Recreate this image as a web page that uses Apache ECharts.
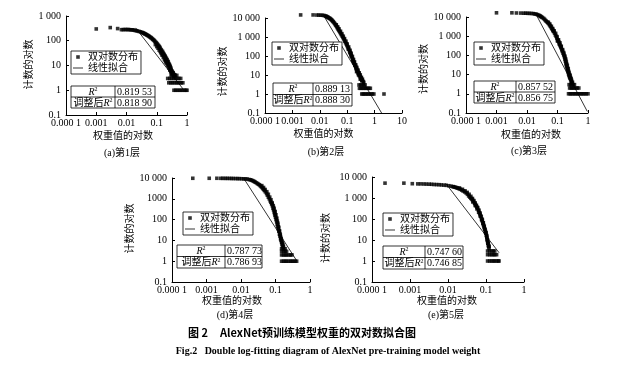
<!DOCTYPE html>
<html><head><meta charset="utf-8">
<script src="https://cdn.jsdelivr.net/npm/echarts@6/dist/echarts.min.js"></script>
<style>html,body{margin:0;padding:0;background:#fff}#c{width:621px;height:366px}</style>
</head><body><div id="c"></div>
<script>
// ---------- data ----------
const xTickLabels = ['0.000 1','0.001','0.01','0.1','1','10'];
const yTickLabelsA = ['0.1','1','10','100','1 000'];
const yTickLabelsBCE = ['0.1','1','10','100','1 000','10 000'];
const yTickLabelsD = ['0.1','1','10','100','1000','10 000'];
const panelCaptions = ['(a)第1层','(b)第2层','(c)第3层','(d)第4层','(e)第5层'];
const r2Values = ['0.819 53','0.889 13','0.857 52','0.787 73','0.747 60'];
const adjR2Values = ['0.818 90','0.888 30','0.856 75','0.786 93','0.746 85'];
const seriesScatterName = '双对数分布';
const seriesFitName = '线性拟合';

const distA = [[0.001,300],[0.0029,340],[0.0051,310],[0.0068,280],[0.0078,282],[0.0089,285],[0.01,282],[0.0112,285],[0.0125,280],[0.014,278],[0.0155,275],[0.017,270],[0.019,262],[0.021,255],[0.023,248],[0.026,238],[0.029,230],[0.032,218],[0.036,205],[0.04,192],[0.045,178],[0.05,165],[0.056,150],[0.063,136],[0.07,122],[0.078,108],[0.087,95],[0.097,82],[0.108,70],[0.12,59],[0.13,50],[0.14,44],[0.155,37],[0.17,30],[0.185,25],[0.2,21],[0.22,17],[0.24,14],[0.26,11],[0.28,9],[0.3,7],[0.33,5.5],[0.36,4.5],[0.4,4],
[0.034,212],[0.038,198],[0.042,186],[0.047,172],[0.053,158],[0.059,144],[0.066,130],[0.074,115],[0.082,102],[0.092,88],[0.102,76],[0.114,64],[0.125,55],[0.145,40],[0.16,33],[0.175,27],[0.19,23],[0.21,19],[0.23,15],[0.25,12],[0.27,10],[0.29,8],[0.32,6],[0.34,5],[0.38,4.2],
[0.09,70],[0.1,58],[0.11,50],[0.12,42],[0.135,33],[0.15,26],[0.165,21],[0.18,17],[0.195,14],[0.21,12],[0.23,10],[0.25,8],[0.27,6.5],[0.29,5.5],[0.31,4.5],[0.16,28],[0.19,19],[0.22,14],[0.26,9],[0.3,6],[0.35,5],
[0.13,38],[0.145,30],[0.17,24],[0.2,16],[0.24,11],[0.28,7],[0.33,4.8],[0.37,3.5],
[0.3,4],[0.35,4],[0.4,4],[0.46,4],
[0.23,3],[0.27,3],[0.31,3],[0.36,3],[0.41,3],[0.47,3],[0.54,3],[0.62,3],
[0.25,2],[0.29,2],[0.33,2],[0.38,2],[0.44,2],[0.5,2],[0.57,2],[0.65,2],[0.73,2],
[0.37,1],[0.42,1],[0.48,1],[0.55,1],[0.63,1],[0.72,1],[0.82,1],[0.92,1],[1.0,1]];
const fitA = [[0.02,330],[0.75,1.1]];

const distB = [[0.002,14500],[0.0057,14500],[0.0078,14300],[0.0092,14200],[0.0108,14000],[0.0125,13900],[0.0142,13600],[0.016,12800],[0.018,11800],[0.02,10800],[0.0225,9800],[0.025,8800],[0.028,7500],[0.031,6300],[0.035,5100],[0.039,4000],[0.044,3000],[0.049,2300],[0.055,1750],[0.062,1300],[0.07,950],[0.078,700],[0.087,510],[0.097,380],[0.108,270],[0.12,190],[0.135,125],[0.15,85],[0.165,58],[0.18,42],[0.2,29],[0.22,21],[0.245,15],[0.27,11],[0.3,8],[0.33,6],[0.36,5],[0.39,4.5],
[0.017,12300],[0.019,11300],[0.021,10300],[0.0235,9300],[0.0265,8100],[0.0295,6900],[0.033,5700],[0.037,4500],[0.0415,3500],[0.0465,2600],[0.052,2000],[0.058,1500],[0.066,1100],[0.074,820],[0.082,600],[0.092,440],[0.102,320],[0.114,230],[0.128,155],[0.142,105],[0.157,70],[0.172,50],[0.19,35],[0.21,25],[0.23,18],[0.26,13],[0.285,10],[0.315,7],[0.345,5.5],
[0.04,4400],[0.045,3400],[0.05,2700],[0.057,2000],[0.064,1500],[0.072,1100],[0.08,820],[0.09,600],[0.1,430],[0.113,300],[0.127,200],[0.14,140],[0.155,95],[0.17,65],[0.185,48],[0.205,34],[0.225,25],[0.25,18],[0.275,13],[0.3,10],[0.33,7.5],[0.36,6],[0.4,4],
[0.11,230],[0.125,150],[0.14,100],[0.16,60],[0.175,45],[0.19,33],[0.21,22],[0.23,16],[0.25,12],[0.28,9],[0.31,7],[0.22,15],[0.26,10],[0.3,6],[0.34,5],
[0.27,3],[0.31,3],[0.35,3],[0.4,3],[0.45,3],
[0.28,2],[0.32,2],[0.37,2],[0.42,2],[0.48,2],[0.55,2],[0.62,2],[0.7,2],
[0.34,1],[0.38,1],[0.43,1],[0.49,1],[0.56,1],[0.64,1],[0.73,1],[0.83,1],[0.94,1],[2.2,1]];
const fitB = [[0.014,13000],[1.8,0.1]];

const distC = [[0.001,16500],[0.0032,16500],[0.0045,16200],[0.0062,16000],[0.0078,15800],[0.009,15800],[0.0105,15600],[0.012,15500],[0.014,15300],[0.016,15000],[0.018,14500],[0.02,14000],[0.022,13300],[0.024,12500],[0.027,11200],[0.03,10000],[0.035,8500],[0.04,6700],[0.045,5600],[0.051,4600],[0.057,3500],[0.064,2600],[0.07,2100],[0.075,1740],[0.085,1150],[0.095,800],[0.11,510],[0.12,350],[0.13,250],[0.145,160],[0.16,105],[0.175,65],[0.19,38],[0.2,26],[0.215,17],[0.23,11],[0.245,8],[0.26,6.4],[0.28,4.5],[0.3,3.5],
[0.0255,11800],[0.0285,10600],[0.032,9300],[0.0375,7600],[0.0425,6100],[0.048,5100],[0.054,4000],[0.06,3100],[0.067,2350],[0.072,1900],[0.08,1450],[0.09,980],[0.1,650],[0.105,580],[0.115,430],[0.125,300],[0.138,200],[0.152,130],[0.168,85],[0.182,50],[0.195,32],[0.207,21],[0.222,14],[0.237,9.5],[0.252,7],[0.27,5.5],[0.29,4],
[0.05,5300],[0.056,4300],[0.063,3300],[0.07,2500],[0.078,1900],[0.087,1400],[0.097,950],[0.108,650],[0.12,450],[0.133,300],[0.147,200],[0.16,140],[0.172,95],[0.185,65],[0.195,45],[0.21,30],[0.225,20],[0.24,13],[0.26,9],[0.28,6],[0.31,4],
[0.1,560],[0.115,380],[0.13,280],[0.145,180],[0.16,120],[0.175,80],[0.185,55],[0.2,35],[0.215,22],[0.23,15],[0.25,10],[0.27,7],[0.29,5],
[0.24,3],[0.27,3],[0.3,3],[0.33,3],[0.36,3],
[0.25,2],[0.28,2],[0.31,2],[0.35,2],[0.39,2],[0.44,2],[0.5,2],
[0.23,1],[0.26,1],[0.29,1],[0.33,1],[0.37,1],[0.42,1],[0.47,1],[0.53,1],[0.6,1],[0.68,1],[0.77,1],[0.87,1],[1.0,1]];
const fitC = [[0.019,15500],[0.95,0.12]];

const distD = [[0.0004,9700],[0.0012,9700],[0.002,9700],[0.0026,9650],[0.003,9650],[0.0035,9600],[0.004,9600],[0.0046,9550],[0.0053,9500],[0.006,9450],[0.007,9400],[0.008,9350],[0.009,9300],[0.0105,9200],[0.012,9100],[0.0135,9000],[0.015,8900],[0.017,8500],[0.02,7900],[0.023,7100],[0.026,6300],[0.03,5400],[0.034,4700],[0.038,3900],[0.043,3100],[0.048,2500],[0.055,1800],[0.062,1200],[0.07,800],[0.077,580],[0.085,350],[0.092,230],[0.097,160],[0.104,100],[0.112,58],[0.12,36],[0.13,20],[0.14,12],[0.15,8],[0.16,5],
[0.0185,8200],[0.0215,7500],[0.0245,6700],[0.028,5850],[0.032,5050],[0.036,4300],[0.0405,3500],[0.0455,2800],[0.051,2150],[0.058,1500],[0.066,1000],[0.073,690],[0.081,460],[0.088,290],[0.094,195],[0.1,130],[0.108,78],[0.116,46],[0.125,28],[0.135,16],[0.145,10],[0.155,6.5],
[0.04,4300],[0.045,3500],[0.05,2800],[0.056,2200],[0.062,1650],[0.068,1200],[0.074,900],[0.08,650],[0.086,470],[0.091,340],[0.097,240],[0.102,170],[0.108,120],[0.113,85],[0.118,60],[0.124,40],[0.13,28],[0.136,20],[0.142,14],[0.15,10],[0.16,7],[0.17,5],
[0.08,560],[0.088,380],[0.095,250],[0.1,170],[0.107,110],[0.115,70],[0.122,45],[0.13,28],[0.138,18],[0.145,12],[0.155,8],[0.165,6],[0.17,4],
[0.15,4],[0.17,4],[0.19,4],
[0.15,3],[0.17,3],[0.19,3],[0.21,3],
[0.15,2],[0.17,2],[0.19,2],[0.21,2],[0.24,2],[0.27,2],[0.3,2],
[0.15,1],[0.17,1],[0.19,1],[0.21,1],[0.24,1],[0.27,1],[0.3,1],[0.33,1],[0.37,1],[0.41,1]];
const fitD = [[0.012,9600],[0.42,1.0]];

const distE = [[0.00022,5100],[0.00069,5100],[0.00115,4800],[0.0016,4700],[0.0019,4700],[0.0023,4650],[0.0027,4600],[0.0032,4550],[0.0037,4500],[0.0043,4400],[0.005,4350],[0.0058,4300],[0.0067,4200],[0.0078,4100],[0.009,4000],[0.0105,3850],[0.012,3650],[0.014,3400],[0.016,3200],[0.018,2950],[0.021,2600],[0.025,2150],[0.03,1740],[0.035,1250],[0.04,970],[0.044,820],[0.05,560],[0.055,420],[0.06,330],[0.067,200],[0.073,130],[0.08,80],[0.086,52],[0.093,32],[0.1,21],[0.105,13],[0.11,8.3],[0.115,5.5],[0.12,4],
[0.0135,3500],[0.015,3300],[0.017,3080],[0.0195,2780],[0.023,2380],[0.0275,1950],[0.0325,1500],[0.0375,1100],[0.042,900],[0.047,680],[0.0525,490],[0.0575,370],[0.0635,260],[0.07,165],[0.0765,100],[0.083,65],[0.0895,42],[0.0965,26],[0.1025,17],[0.1075,11],[0.1125,7],[0.1175,4.8],
[0.02,3000],[0.024,2600],[0.028,2200],[0.032,1850],[0.036,1500],[0.04,1200],[0.044,950],[0.048,750],[0.052,580],[0.056,450],[0.06,350],[0.065,260],[0.07,190],[0.075,135],[0.08,95],[0.085,66],[0.09,46],[0.095,32],[0.1,22],[0.105,15],[0.11,10],[0.115,7],[0.12,5],
[0.045,650],[0.052,440],[0.058,300],[0.064,210],[0.07,140],[0.077,90],[0.083,60],[0.09,38],[0.097,24],[0.103,16],[0.108,10],[0.113,7],[0.118,5],
[0.11,3],[0.125,3],[0.14,3],[0.155,3],[0.17,3],
[0.11,2],[0.125,2],[0.14,2],[0.155,2],[0.17,2],[0.19,2],
[0.11,1],[0.125,1],[0.14,1],[0.155,1],[0.17,1],[0.19,1],[0.21,1],[0.22,1]];
const fitE = [[0.0087,5000],[0.22,2.5]];

const xAxisName = '权重值的对数';
const yAxisName = '计数的对数';
const figTitleCN = ['图 2', 'AlexNet预训练模型权重的双对数拟合图'];
const figTitleEN = 'Fig.2   Double log-fitting diagram of AlexNet pre-training model weight';

// ---------- layout ----------
const FONT = '"Liberation Serif","Noto Sans CJK SC",serif';
const panels = [
  {grid:{left:66,top:16,width:121,height:99}, xMax:1, yMax:1000, yLabels:yTickLabelsA, data:distA, fit:fitA,
   yGap:29, yPad:[0,0,0,2], xGap:16, xPad:[0,7,0,0],
   legend:{left:71,top:51}, table:{x0:71,x1:155,y0:86,y1:108,split:115}, cap:[122,153]},
  {grid:{left:265,top:18,width:137,height:95}, xMax:10, yMax:10000, yLabels:yTickLabelsBCE, data:distB, fit:fitB,
   yGap:35, yPad:[0,12,0,0], xGap:16, xPad:[0,20,0,0],
   legend:{left:272,top:42}, table:{x0:273,x1:352,y0:83,y1:106,split:313}, cap:[326,152]},
  {grid:{left:466,top:17,width:122,height:96}, xMax:1, yMax:10000, yLabels:yTickLabelsBCE, data:distC, fit:fitC,
   yGap:31, yPad:[0,8,0,0], xGap:17, xPad:[0,0,0,8],
   legend:{left:474,top:42}, table:{x0:474,x1:555,y0:81,y1:103,split:516}, cap:[529,151]},
  {grid:{left:172,top:178,width:138,height:104}, xMax:1, yMax:10000, yLabels:yTickLabelsD, data:distD, fit:fitD,
   yGap:34, yPad:[0,0,0,3], xGap:13, xPad:[0,18,0,0],
   legend:{left:183,top:212}, table:{x0:177,x1:262,y0:245,y1:268,split:225}, cap:[235,315]},
  {grid:{left:372,top:177,width:152,height:105}, xMax:1, yMax:10000, yLabels:yTickLabelsBCE, data:distE, fit:fitE,
   yGap:41, yPad:[0,17,0,0], xGap:13, xPad:[0,2,0,0],
   legend:{left:383,top:213}, table:{x0:383,x1:463,y0:246,y1:269,split:425}, cap:[446,315]}
];

const axisCommon = {
  type:'log', logBase:10,
  axisLine:{show:true, onZero:false, lineStyle:{color:'#000', width:1}},
  axisTick:{show:true, inside:true, length:3, lineStyle:{color:'#000', width:1}},
  minorTick:{show:false}, splitLine:{show:false}, minorSplitLine:{show:false},
  nameTextStyle:{fontFamily:FONT, fontSize:10, color:'#000'}
};

const option = {
  animation:false, backgroundColor:'#fff',
  grid:[], xAxis:[], yAxis:[], series:[], legend:[], graphic:{elements:[]}
};
const sqIcon = 'path://M0,0L0,0M10,10L10,10M3.2,3.2L6.8,3.2L6.8,6.8L3.2,6.8Z';
const lnIcon = 'path://M0,0L0,0M10,10L10,10M0,4.6L10,4.6L10,5.4L0,5.4Z';

panels.forEach((p, i) => {
  option.grid.push(Object.assign({containLabel:false}, p.grid));
  const xDec = Math.round(Math.log10(p.xMax)) + 4;
  const yDec = Math.round(Math.log10(p.yMax)) + 1;
  option.xAxis.push(Object.assign({}, axisCommon, {
    gridIndex:i, min:0.0001, max:p.xMax, splitNumber:xDec,
    name:xAxisName, nameLocation:'middle', nameGap:p.xGap,
    nameTextStyle:Object.assign({}, axisCommon.nameTextStyle, {padding:p.xPad}),
    axisLabel:{color:'#000', fontFamily:FONT, fontSize:10, margin:3, showMinLabel:true, showMaxLabel:true,
      formatter:v => xTickLabels[Math.round(Math.log10(v)) + 4]}
  }));
  option.yAxis.push(Object.assign({}, axisCommon, {
    gridIndex:i, min:0.1, max:p.yMax, splitNumber:yDec,
    name:yAxisName, nameLocation:'middle', nameGap:p.yGap, nameRotate:90,
    nameTextStyle:Object.assign({}, axisCommon.nameTextStyle, {padding:p.yPad}),
    axisLabel:{color:'#000', fontFamily:FONT, fontSize:10, margin:5, showMinLabel:true, showMaxLabel:true,
      formatter:(labels => v => labels[Math.round(Math.log10(v)) + 1])(p.yLabels)}
  }));
  option.series.push({
    name:seriesScatterName, type:'scatter', xAxisIndex:i, yAxisIndex:i,
    symbol:'rect', symbolSize:3.6, itemStyle:{color:'#000'}, clip:false, silent:true,
    data:p.data
  });
  option.series.push({
    name:seriesFitName, type:'line', xAxisIndex:i, yAxisIndex:i,
    symbol:'none', showSymbol:false, lineStyle:{color:'#000', width:0.8}, itemStyle:{color:'#000'},
    clip:false, silent:true, data:p.fit
  });
  option.legend.push({
    left:p.legend.left, top:p.legend.top, orient:'vertical', selectedMode:false,
    borderColor:'#000', borderWidth:0.8, borderRadius:0, padding:[1,3,1,2], itemGap:1,
    itemWidth:10, itemHeight:10, backgroundColor:'#fff',
    textStyle:{fontFamily:FONT, fontSize:10, color:'#000', lineHeight:10},
    data:[{name:seriesScatterName, icon:sqIcon, itemStyle:{color:'#000'}},
          {name:seriesFitName, icon:lnIcon, itemStyle:{color:'#000'}}]
  });
  const t = p.table, mid = (t.y0 + t.y1) / 2;
  const G = option.graphic.elements;
  const ls = {stroke:'#000', lineWidth:0.8, fill:null};
  G.push({type:'rect', shape:{x:t.x0, y:t.y0, width:t.x1 - t.x0, height:t.y1 - t.y0}, style:{stroke:'#000', lineWidth:0.8, fill:'#fff'}, z:50});
  G.push({type:'line', shape:{x1:t.x0, y1:mid, x2:t.x1, y2:mid}, style:ls, z:51});
  G.push({type:'line', shape:{x1:t.split, y1:t.y0, x2:t.split, y2:t.y1}, style:ls, z:51});
  const rich = {i:{fontFamily:FONT, fontSize:10, fontStyle:'italic', fill:'#000'}, s:{fontFamily:FONT, fontSize:6, fill:'#000', verticalAlign:'top', padding:[0,0,5,0]}};
  G.push({type:'text', x:(t.x0 + t.split) / 2, y:(t.y0 + mid) / 2 + 0.5, z:52,
    style:{text:'{i|R}{s|2}', rich:rich, align:'center', verticalAlign:'middle', fill:'#000', fontFamily:FONT, fontSize:10}});
  G.push({type:'text', x:(t.x0 + t.split) / 2, y:(mid + t.y1) / 2 + 0.5, z:52,
    style:{text:'调整后{i|R}{s|2}', rich:rich, align:'center', verticalAlign:'middle', fill:'#000', fontFamily:FONT, fontSize:10}});
  G.push({type:'text', x:t.split + 2, y:(t.y0 + mid) / 2 + 0.5, z:52,
    style:{text:r2Values[i], align:'left', verticalAlign:'middle', fill:'#000', fontFamily:FONT, fontSize:10}});
  G.push({type:'text', x:t.split + 2, y:(mid + t.y1) / 2 + 0.5, z:52,
    style:{text:adjR2Values[i], align:'left', verticalAlign:'middle', fill:'#000', fontFamily:FONT, fontSize:10}});
  G.push({type:'text', x:p.cap[0], y:p.cap[1], z:52,
    style:{text:panelCaptions[i], align:'center', verticalAlign:'middle', fill:'#000', fontFamily:FONT, fontSize:10}});
});

option.graphic.elements.push(
  {type:'text', x:188, y:333, style:{text:figTitleCN[0], align:'left', verticalAlign:'middle', fill:'#000', fontFamily:'"Noto Sans CJK SC",sans-serif', fontWeight:'bold', fontSize:11}},
  {type:'text', x:220, y:333, style:{text:figTitleCN[1], align:'left', verticalAlign:'middle', fill:'#000', fontFamily:'"Noto Sans CJK SC",sans-serif', fontWeight:'bold', fontSize:11}},
  {type:'text', x:328, y:351, style:{text:figTitleEN, align:'center', verticalAlign:'middle', fill:'#000', fontFamily:'"Liberation Serif",serif', fontWeight:'bold', fontSize:10}}
);

const chart = echarts.init(document.getElementById('c'), null, {renderer:'canvas', width:621, height:366});
chart.setOption(option);
</script>
</body></html>
